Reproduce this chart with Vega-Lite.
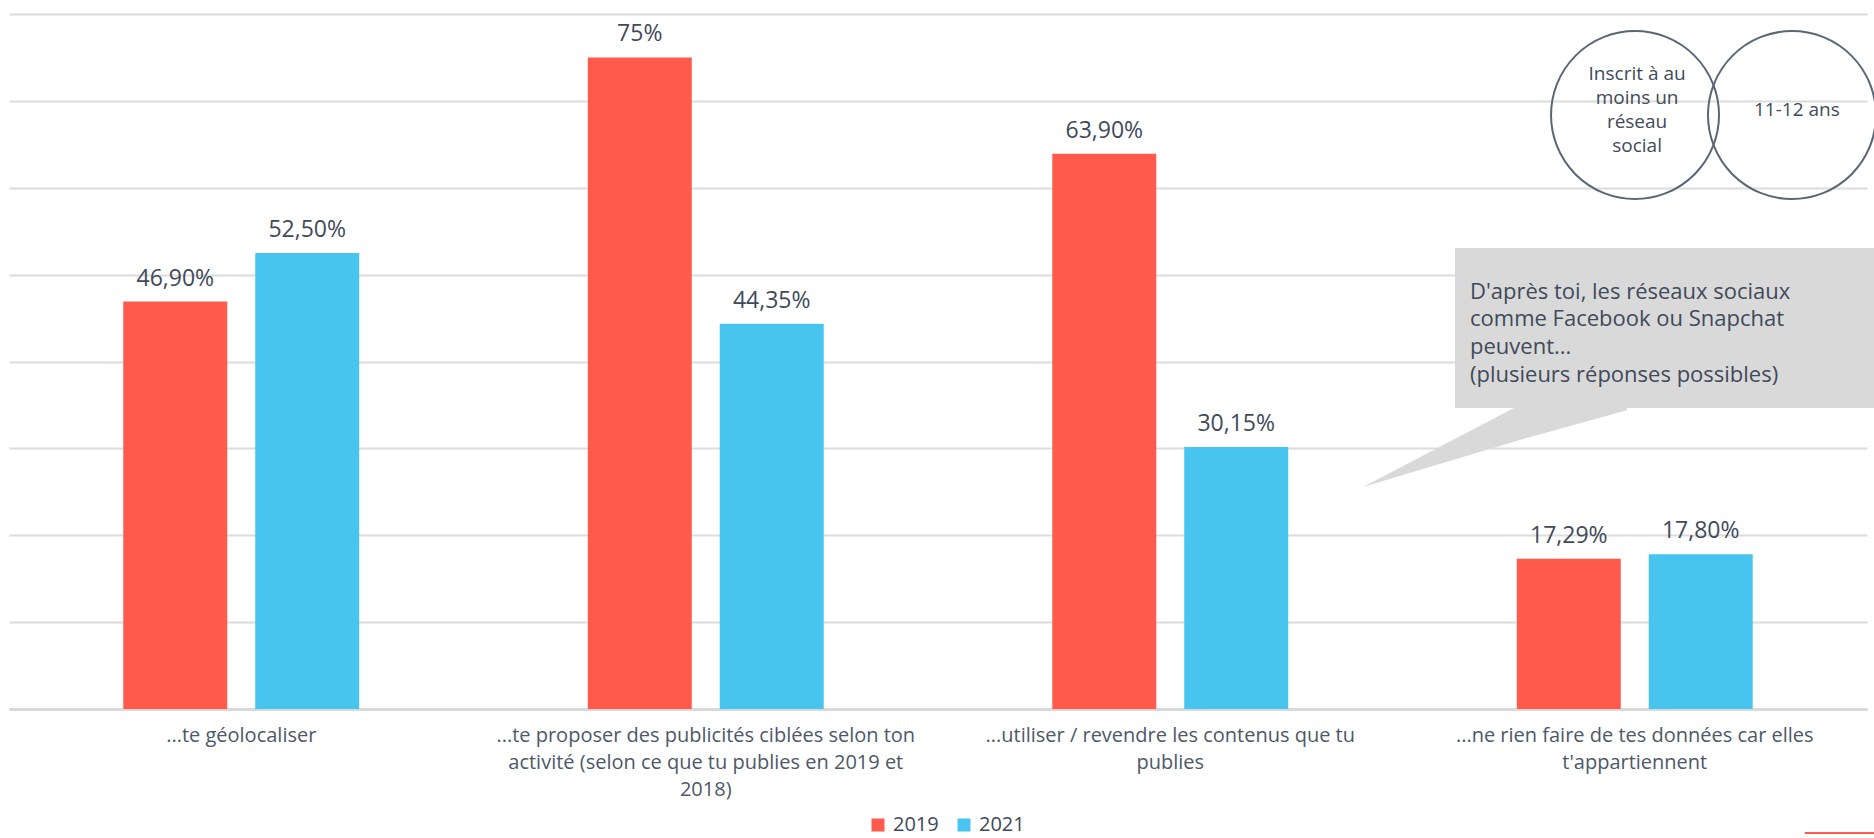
{
  "$schema": "https://vega.github.io/schema/vega-lite/v6.json",
  "width": 1858,
  "height": 695,
  "autosize": {"type": "none"},
  "padding": {"left": 9, "top": 14, "right": 7, "bottom": 129},
  "background": "#ffffff",
  "config": {"view": {"stroke": null}, "font": "Open Sans"},
  "datasets": {
    "barres": [
      {"categorie": "...te géolocaliser", "annee": "2019", "valeur": 46.90, "etiquette": "46,90%"},
      {"categorie": "...te géolocaliser", "annee": "2021", "valeur": 52.50, "etiquette": "52,50%"},
      {"categorie": "...te proposer des publicités ciblées selon ton\nactivité (selon ce que tu publies en 2019 et\n2018)", "annee": "2019", "valeur": 75, "etiquette": "75%"},
      {"categorie": "...te proposer des publicités ciblées selon ton\nactivité (selon ce que tu publies en 2019 et\n2018)", "annee": "2021", "valeur": 44.35, "etiquette": "44,35%"},
      {"categorie": "...utiliser / revendre les contenus que tu\npublies", "annee": "2019", "valeur": 63.90, "etiquette": "63,90%"},
      {"categorie": "...utiliser / revendre les contenus que tu\npublies", "annee": "2021", "valeur": 30.15, "etiquette": "30,15%"},
      {"categorie": "...ne rien faire de tes données car elles\nt'appartiennent", "annee": "2019", "valeur": 17.29, "etiquette": "17,29%"},
      {"categorie": "...ne rien faire de tes données car elles\nt'appartiennent", "annee": "2021", "valeur": 17.80, "etiquette": "17,80%"}
    ],
    "bulle": [{"u1": 3.113, "u2": 4.02, "v1": 53.07, "v2": 34.65}],
    "queue": [
      {"u": 2.915, "v": 25.55, "v2": 25.55},
      {"u": 3.2594, "v": 35.2, "v2": 31.07},
      {"u": 3.4833, "v": 35.2, "v2": 34.4}
    ],
    "texteBulle": [{"u": 3.1453, "v": 48.05, "t": "D'après toi, les réseaux sociaux\ncomme Facebook ou Snapchat\npeuvent...\n(plusieurs réponses possibles)"}],
    "cercles": [{"u": 3.5006, "v": 68.37}, {"u": 3.8385, "v": 68.37}],
    "texteCercles": [
      {"u": 3.505, "v": 73.1, "t": "Inscrit à au\nmoins un\nréseau\nsocial"},
      {"u": 3.849, "v": 68.95, "t": "11-12 ans"}
    ],
    "trait": [{"u1": 3.866, "u2": 4.02, "v": -14.27}]
  },
  "resolve": {"scale": {"x": "independent"}},
  "layer": [
    {
      "data": {"name": "barres"},
      "layer": [
        {
          "mark": {"type": "bar"},
          "encoding": {
            "x": {
              "field": "categorie", "type": "nominal", "sort": null,
              "scale": {"paddingInner": 0, "paddingOuter": 0},
              "axis": {
                "title": null, "ticks": false, "domain": true, "domainColor": "#d9d9d9", "domainWidth": 3,
                "labelFont": "Open Sans", "labelFontSize": 20, "labelColor": "#4d5868",
                "labelPadding": 16, "labelLineHeight": 27, "labelLimit": 0, "labelAngle": 0,
                "labelOverlap": false,
                "labelExpr": "split(datum.label, '\\n')"
              }
            },
            "xOffset": {"field": "annee", "type": "nominal", "scale": {"paddingInner": 0.212, "paddingOuter": 0.866}},
            "y": {
              "field": "valeur", "type": "quantitative",
              "scale": {"domain": [0, 80], "nice": false},
              "axis": {"title": null, "labels": false, "ticks": false, "domain": false, "grid": true,
                       "gridColor": "#dcdcdc", "gridWidth": 2, "values": [0, 10, 20, 30, 40, 50, 60, 70, 80]}
            },
            "color": {
              "field": "annee", "type": "nominal",
              "scale": {"domain": ["2019", "2021"], "range": ["#FF5A4B", "#47C5EE"]},
              "legend": {
                "title": null, "orient": "none", "legendX": 859, "legendY": 801, "direction": "horizontal",
                "symbolType": "square", "symbolSize": 169, "symbolStrokeWidth": 0, "symbolOpacity": 1,
                "labelFont": "Open Sans", "labelFontSize": 20, "labelColor": "#3f4a5a",
                "columnPadding": 15, "labelOffset": 5, "padding": 0
              }
            }
          }
        },
        {
          "mark": {"type": "text", "dy": -16, "baseline": "alphabetic", "align": "center", "fontSize": 23, "font": "Open Sans", "color": "#3f4a5a"},
          "encoding": {
            "x": {"field": "categorie", "type": "nominal", "sort": null},
            "xOffset": {"field": "annee", "type": "nominal"},
            "y": {"field": "valeur", "type": "quantitative", "scale": {"domain": [0, 80], "nice": false}},
            "text": {"field": "etiquette"}
          }
        }
      ]
    },
    {
      "data": {"name": "queue"},
      "mark": {"type": "area", "color": "#d9d9d9", "opacity": 1, "interpolate": "linear"},
      "encoding": {
        "x": {"field": "u", "type": "quantitative", "scale": {"domain": [0, 4], "nice": false, "zero": false}, "axis": null},
        "y": {"field": "v", "type": "quantitative", "scale": {"domain": [0, 80], "nice": false}},
        "y2": {"field": "v2"}
      }
    },
    {
      "data": {"name": "bulle"},
      "mark": {"type": "rect", "color": "#d9d9d9"},
      "encoding": {
        "x": {"field": "u1", "type": "quantitative", "scale": {"domain": [0, 4], "nice": false, "zero": false}, "axis": null},
        "x2": {"field": "u2"},
        "y": {"field": "v1", "type": "quantitative", "scale": {"domain": [0, 80], "nice": false}},
        "y2": {"field": "v2"}
      }
    },
    {
      "data": {"name": "texteBulle"},
      "mark": {"type": "text", "align": "left", "baseline": "middle", "lineBreak": "\n", "lineHeight": 27.7, "fontSize": 22, "font": "Open Sans", "color": "#3f4a5a"},
      "encoding": {
        "x": {"field": "u", "type": "quantitative", "scale": {"domain": [0, 4], "nice": false, "zero": false}, "axis": null},
        "y": {"field": "v", "type": "quantitative", "scale": {"domain": [0, 80], "nice": false}},
        "text": {"field": "t"}
      }
    },
    {
      "data": {"name": "cercles"},
      "mark": {"type": "point", "shape": "circle", "filled": false, "size": 28224, "stroke": "#5b6675", "strokeWidth": 2, "opacity": 1},
      "encoding": {
        "x": {"field": "u", "type": "quantitative", "scale": {"domain": [0, 4], "nice": false, "zero": false}, "axis": null},
        "y": {"field": "v", "type": "quantitative", "scale": {"domain": [0, 80], "nice": false}}
      }
    },
    {
      "data": {"name": "texteCercles"},
      "mark": {"type": "text", "align": "center", "baseline": "middle", "lineBreak": "\n", "lineHeight": 24, "fontSize": 19, "font": "Open Sans", "color": "#3f4a5a"},
      "encoding": {
        "x": {"field": "u", "type": "quantitative", "scale": {"domain": [0, 4], "nice": false, "zero": false}, "axis": null},
        "y": {"field": "v", "type": "quantitative", "scale": {"domain": [0, 80], "nice": false}},
        "text": {"field": "t"}
      }
    },
    {
      "data": {"name": "trait"},
      "mark": {"type": "rule", "color": "#FF5A4B", "strokeWidth": 2},
      "encoding": {
        "x": {"field": "u1", "type": "quantitative", "scale": {"domain": [0, 4], "nice": false, "zero": false}, "axis": null},
        "x2": {"field": "u2"},
        "y": {"field": "v", "type": "quantitative", "scale": {"domain": [0, 80], "nice": false}}
      }
    }
  ]
}
